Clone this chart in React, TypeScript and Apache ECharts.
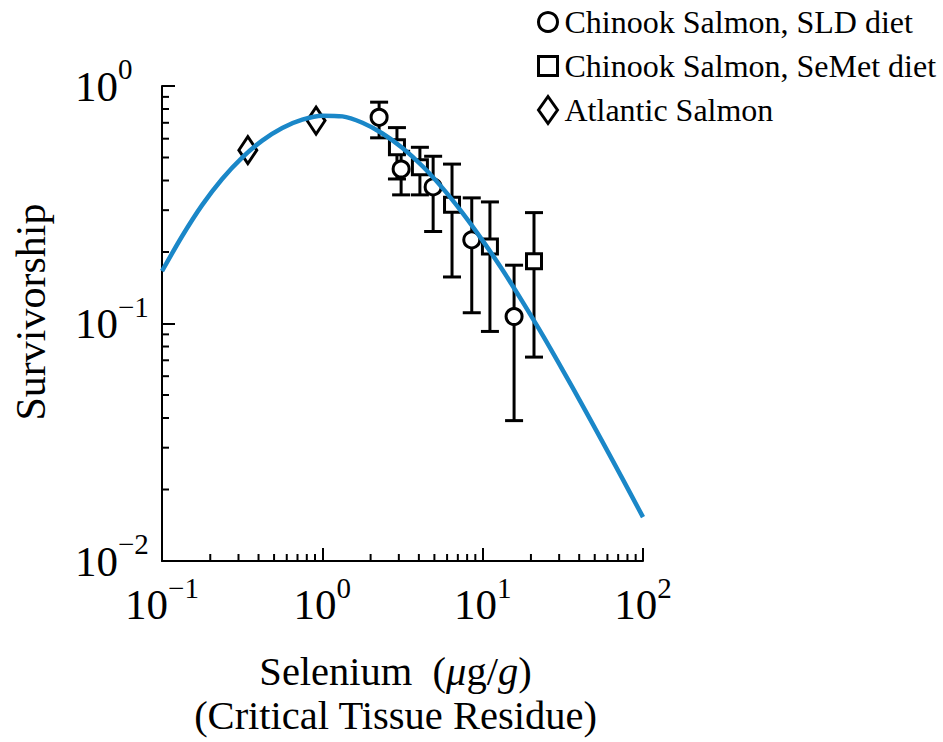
import React, { useEffect, useRef } from 'react';
import * as echarts from 'echarts';

// ---- data ----
const sldX = [2.26, 3.1, 4.91, 8.55, 15.7];
const sldY = [0.738, 0.447, 0.376, 0.225, 0.107];
const sldLow = [0.605, 0.348, 0.244, 0.111, 0.039];
const sldHigh = [0.855, 0.531, 0.506, 0.338, 0.176];

const semetX = [2.92, 4.06, 6.44, 11.1, 20.9];
const semetY = [0.552, 0.455, 0.316, 0.211, 0.183];
const semetLow = [0.406, 0.348, 0.157, 0.0926, 0.0722];
const semetHigh = [0.668, 0.552, 0.469, 0.325, 0.293];

const atlanticX = [0.343, 0.914];
const atlanticY = [0.537, 0.715];

// fitted curve
const fitX = [0.1, 0.1334, 0.1778, 0.2371, 0.3162, 0.4217, 0.5623, 0.7499, 1.0, 1.334, 1.778, 2.371, 3.162, 4.217, 5.623, 7.499, 10, 13.34, 17.78, 23.71, 31.62, 42.17, 56.23, 74.99, 100];
const fitY = [0.166, 0.233, 0.315, 0.406, 0.4995, 0.589, 0.666, 0.7215, 0.75, 0.745, 0.7, 0.631, 0.5483, 0.4592, 0.3715, 0.2917, 0.2234, 0.1675, 0.123, 0.0891, 0.0635, 0.0449, 0.0315, 0.022, 0.0153];

const minorTicksX = [0.2, 0.3, 0.4, 0.5, 0.6, 0.7, 0.8, 0.9, 2, 3, 4, 5, 6, 7, 8, 9, 20, 30, 40, 50, 60, 70, 80, 90];
const minorTicksY = [0.02, 0.03, 0.04, 0.05, 0.06, 0.07, 0.08, 0.09, 0.2, 0.3, 0.4, 0.5, 0.6, 0.7, 0.8, 0.9];

const X_MIN = 0.1, X_MAX = 100, Y_MIN = 0.01, Y_MAX = 1;

const NAME_SLD = 'Chinook Salmon, SLD diet';
const NAME_SEMET = 'Chinook Salmon, SeMet diet';
const NAME_ATL = 'Atlantic Salmon';

const FONT = '"Liberation Serif", "DejaVu Serif", serif';
const BLUE = '#1a87c8';

function supLabel(v: number) {
  const e = Math.round(Math.log10(v));
  const s = e < 0 ? '\u2212' + -e : String(e);
  return `{b|10}{s|${s}}`;
}

const labelRich = {
  b: { fontSize: 43, lineHeight: 43, fontFamily: FONT, color: '#000' },
  s: { fontSize: 29, lineHeight: 29, padding: [0, 0, 34, 0], fontFamily: FONT, color: '#000' },
};

function errorRender(params: any, api: any) {
  const x = api.value(0);
  const lo = api.value(1);
  const hi = api.value(2);
  const pLo = api.coord([x, lo]);
  const pHi = api.coord([x, hi]);
  const w = 9;
  const style = { stroke: '#000', lineWidth: 3 };
  return {
    type: 'group',
    children: [
      { type: 'line', shape: { x1: pLo[0], y1: pLo[1], x2: pHi[0], y2: pHi[1] }, style },
      { type: 'line', shape: { x1: pLo[0] - w, y1: pLo[1], x2: pLo[0] + w, y2: pLo[1] }, style },
      { type: 'line', shape: { x1: pHi[0] - w, y1: pHi[1], x2: pHi[0] + w, y2: pHi[1] }, style },
    ],
  };
}

function minorXRender(params: any, api: any) {
  const p = api.coord([api.value(0), api.value(1)]);
  return { type: 'line', shape: { x1: p[0], y1: p[1], x2: p[0], y2: p[1] - 7 }, style: { stroke: '#000', lineWidth: 2 } };
}
function minorYRender(params: any, api: any) {
  const p = api.coord([api.value(0), api.value(1)]);
  return { type: 'line', shape: { x1: p[0], y1: p[1], x2: p[0] + 7, y2: p[1] }, style: { stroke: '#000', lineWidth: 2 } };
}

const markerStyle = { color: '#fff', borderColor: '#000', borderWidth: 3, opacity: 1 };

export default function App() {
  const ref = useRef<HTMLDivElement>(null);
  useEffect(() => {
    if (!ref.current) return;
    const chart = echarts.init(ref.current, null, { renderer: 'svg', width: 943, height: 742 });
    const option: any = {
      animation: false,
      backgroundColor: '#fff',
      textStyle: { fontFamily: FONT },
      grid: { left: 162, top: 86, width: 481, height: 486 },
      legend: {
        data: [
          { name: NAME_SLD, icon: 'circle' },
          { name: NAME_SEMET, icon: 'path://M0,0L10,0L10,10L0,10Z' },
          { name: NAME_ATL, icon: 'diamond' },
        ],
        orient: 'vertical',
        left: 537,
        top: 4,
        padding: 0,
        itemWidth: 19,
        itemHeight: 27,
        itemGap: 8,
        symbolKeepAspect: true,
        selectedMode: false,
        itemStyle: { color: '#fff', borderColor: '#000', borderWidth: 3, opacity: 1 },
        textStyle: { fontSize: 32, lineHeight: 36, fontFamily: FONT, color: '#000', padding: [0, 0, 0, 2] },
      },
      xAxis: {
        type: 'log',
        logBase: 10,
        min: X_MIN,
        max: X_MAX,
        axisLine: { lineStyle: { color: '#000', width: 2 } },
        axisTick: { inside: true, length: 13, lineStyle: { color: '#000', width: 2 } },
        axisLabel: { formatter: supLabel, rich: labelRich, margin: 22 },
        splitLine: { show: false },
        name: '{n|Selenium  (}{i|\u03bc}{n|g/}{i|g}{n|)}\n{n|(Critical Tissue Residue)}',
        nameLocation: 'middle',
        nameGap: 88,
        nameTextStyle: {
          fontSize: 40.5,
          lineHeight: 44,
          fontFamily: FONT,
          color: '#000',
          padding: [0, 14, 0, 0],
          rich: {
            n: { fontSize: 40.5, lineHeight: 44, fontFamily: FONT, color: '#000' },
            i: { fontSize: 40.5, lineHeight: 44, fontFamily: FONT, fontStyle: 'italic', color: '#000' },
          },
        },
      },
      yAxis: {
        type: 'log',
        logBase: 10,
        min: Y_MIN,
        max: Y_MAX,
        axisLine: { lineStyle: { color: '#000', width: 2 } },
        axisTick: { inside: true, length: 13, lineStyle: { color: '#000', width: 2 } },
        axisLabel: { formatter: supLabel, rich: labelRich, margin: 87, align: 'left' },
        splitLine: { show: false },
        name: 'Survivorship',
        nameLocation: 'middle',
        nameGap: 110,
        nameTextStyle: { fontSize: 42, fontFamily: FONT, color: '#000', padding: [0, 0, 0, 23] },
      },
      series: [
        {
          name: 'errSLD',
          type: 'custom',
          renderItem: errorRender,
          encode: { x: 0, y: [1, 2] },
          data: sldX.map((x, i) => [x, sldLow[i], sldHigh[i]]),
          z: 2,
          silent: true,
        },
        {
          name: 'errSeMet',
          type: 'custom',
          renderItem: errorRender,
          encode: { x: 0, y: [1, 2] },
          data: semetX.map((x, i) => [x, semetLow[i], semetHigh[i]]),
          z: 2,
          silent: true,
        },
        {
          name: NAME_SLD,
          type: 'scatter',
          symbol: 'circle',
          symbolSize: 16,
          itemStyle: markerStyle,
          data: sldX.map((x, i) => [x, sldY[i]]),
          z: 3,
        },
        {
          name: NAME_SEMET,
          type: 'scatter',
          symbol: 'rect',
          symbolSize: 15,
          itemStyle: markerStyle,
          data: semetX.map((x, i) => [x, semetY[i]]),
          z: 3,
        },
        {
          name: NAME_ATL,
          type: 'scatter',
          symbol: 'diamond',
          symbolSize: [18, 27],
          itemStyle: markerStyle,
          data: atlanticX.map((x, i) => [x, atlanticY[i]]),
          z: 3,
        },
        {
          name: 'fit',
          type: 'line',
          showSymbol: false,
          smooth: 0.3,
          lineStyle: { color: BLUE, width: 4.5 },
          itemStyle: { color: BLUE },
          data: fitX.map((x, i) => [x, fitY[i]]),
          z: 4,
          silent: true,
        },
        {
          name: 'minorX',
          type: 'custom',
          renderItem: minorXRender,
          encode: { x: 0, y: 1 },
          clip: false,
          data: minorTicksX.map((v) => [v, Y_MIN]),
          z: 5,
          silent: true,
        },
        {
          name: 'minorY',
          type: 'custom',
          renderItem: minorYRender,
          encode: { x: 0, y: 1 },
          clip: false,
          data: minorTicksY.map((v) => [X_MIN, v]),
          z: 5,
          silent: true,
        },
      ],
    };
    chart.setOption(option);
    return () => chart.dispose();
  }, []);
  return <div ref={ref} style={{ position: 'fixed', left: 0, top: 0, width: 943, height: 742, background: '#fff' }} />;
}
